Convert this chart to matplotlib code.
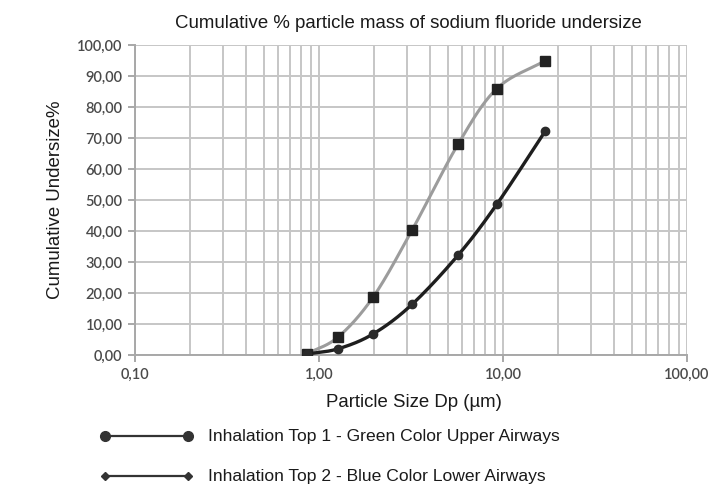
import matplotlib
matplotlib.use("Agg")
import matplotlib.pyplot as plt
from matplotlib.lines import Line2D
from matplotlib.ticker import FuncFormatter, LogLocator, MultipleLocator
import numpy as np

# particle size (um) and cumulative undersize (%)
size_dp = [0.86, 1.27, 1.97, 3.2, 5.7, 9.25, 17.0]
top1 = [0.3, 2.0, 6.8, 16.3, 32.2, 48.6, 72.3]
top2 = [0.4, 5.8, 18.7, 40.2, 68.0, 85.9, 95.0]

title = 'Cumulative % particle mass of sodium fluoride undersize'
xlab = 'Particle Size Dp (\u00b5m)'
ylab = 'Cumulative Undersize%'
label1 = 'Inhalation Top 1 - Green Color Upper Airways'
label2 = 'Inhalation Top 2 - Blue Color Lower Airways'

plt.rcParams['font.family'] = ['Liberation Sans', 'DejaVu Sans']


def smooth(x, y, n=30):
    # catmull-rom through the points in log-x space (like excel smoothed line)
    lx = np.log10(x)
    y = np.asarray(y, float)
    P = np.column_stack([lx, y])
    P = np.vstack([2*P[0]-P[1], P, 2*P[-1]-P[-2]])
    out = []
    t = np.linspace(0, 1, n)[:, None]
    for i in range(1, len(P)-2):
        p0, p1, p2, p3 = P[i-1], P[i], P[i+1], P[i+2]
        seg = 0.5*((2*p1) + (-p0+p2)*t + (2*p0-5*p1+4*p2-p3)*t**2
                   + (-p0+3*p1-3*p2+p3)*t**3)
        out.append(seg)
    out = np.vstack(out)
    return 10**out[:, 0], out[:, 1]


W, H = 710, 486
fig = plt.figure(figsize=(W/100, H/100), dpi=100)
ax = fig.add_axes([135/W, 1-355/H, 552/W, 310/H])

ax.set_xscale('log')
ax.set_xlim(0.1, 100)
ax.set_ylim(0, 100)
ax.yaxis.set_major_locator(MultipleLocator(10))
ax.xaxis.set_major_locator(LogLocator(base=10))
ax.xaxis.set_minor_locator(LogLocator(base=10, subs=np.arange(2, 10)))

fmt = FuncFormatter(lambda v, p: ('%.2f' % v).replace('.', ','))
ax.yaxis.set_major_formatter(fmt)
ax.xaxis.set_major_formatter(fmt)
ax.xaxis.set_minor_formatter(FuncFormatter(lambda v, p: ''))

ax.grid(True, which='both', color='#c6c6c6', linewidth=1.4)
ax.set_axisbelow(True)
for s in ['top', 'right']:
    ax.spines[s].set_visible(False)
for s in ['left', 'bottom']:
    ax.spines[s].set_color('#a8a8a8')
    ax.spines[s].set_linewidth(1.4)
ax.tick_params(axis='both', which='major', length=5, width=1.4, color='#a8a8a8',
               labelsize=10.5, labelcolor='#4a4a4a', pad=4)
ax.tick_params(axis='x', which='minor', length=0)
for lab in ax.get_xticklabels() + ax.get_yticklabels():
    lab.set_family(['Lato', 'DejaVu Sans'])
    lab.set_fontweight('semibold')

sx, sy = smooth(size_dp, top2)
ax.plot(sx, sy, color='#9c9c9c', lw=2.2, zorder=3)
ax.plot(size_dp, top2, 's', color='#222222', ms=6.5, zorder=4)

sx, sy = smooth(size_dp, top1)
ax.plot(sx, sy, color='#1e1e1e', lw=2.4, zorder=5)
ax.plot(size_dp, top1, 'o', color='#2a2a2a', ms=6, zorder=6)

fig.text(408/W, 1-23/H, title, ha='center', va='center', fontsize=13.4,
         color='#1a1a1a')
fig.text(414/W, 1-402/H, xlab, ha='center', va='center', fontsize=13.4,
         color='#1a1a1a')
fig.text(56/W, 1-200/H, ylab, ha='center', va='center', fontsize=13.4,
         rotation=90, color='#1a1a1a')

# legend drawn by hand so it sits where the reference has it
rows = [(436, 'o', 7, label1), (476, 'D', 4.5, label2)]
for yy, mk, ms, lab in rows:
    fig.add_artist(Line2D([105/W, 188/W], [1-yy/H, 1-yy/H], color='#333333',
                          lw=1.6, marker=mk, ms=ms, transform=fig.transFigure))
    fig.text(208/W, 1-yy/H, lab, ha='left', va='center', fontsize=12.6,
             color='#1a1a1a')

fig.savefig('out.png', dpi=100)
